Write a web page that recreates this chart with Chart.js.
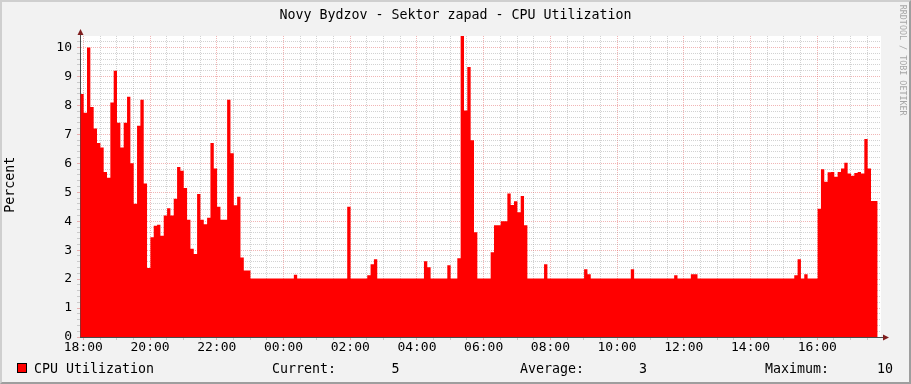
<!DOCTYPE html>
<html>
<head>
<meta charset="utf-8">
<title>Novy Bydzov - Sektor zapad - CPU Utilization</title>
<script src="https://cdn.jsdelivr.net/npm/chart.js@4"></script>
<style>
  body { margin: 0; background: #f2f2f2; }
  #graph { position: relative; width: 911px; height: 384px; background: #f2f2f2; overflow: hidden; }
  #graph canvas { position: absolute; left: 0; top: 0; }
  #frame {
    position: absolute; left: 0; top: 0; width: 911px; height: 384px;
    box-sizing: border-box; border: 2px solid;
    border-color: #cfcfcf #9e9e9e #9e9e9e #cfcfcf; pointer-events: none;
  }
  .txt {
    position: absolute; font-family: "DejaVu Sans Mono", monospace;
    font-size: 13.3px; line-height: 1; white-space: pre; color: #000;
  }
  #title { left: 0; width: 911px; top: 7.75px; text-align: center; }
  #ylabel {
    left: -29.6px; top: 178.4px; width: 80px; height: 13.3px;
    text-align: center; transform: rotate(-90deg);
  }
  #mark {
    font-size: 8.4px; color: #a6a6a6;
    left: 842.9px; top: 56.3px; width: 120px; height: 8.4px;
    text-align: center; transform: rotate(90deg);
  }
  #legendBox {
    position: absolute; left: 17px; top: 363px; width: 10px; height: 10px;
    box-sizing: border-box; background: #ff0000; border: 1px solid #000;
  }
  .leg { top: 362px; }
</style>
</head>
<body>
<div id="graph">
  <canvas id="cpuChart" width="911" height="384"></canvas>
  <div id="frame"></div>
  <div class="txt" id="title"></div>
  <div class="txt" id="ylabel">Percent</div>
  <div class="txt" id="mark">RRDTOOL / TOBI OETIKER</div>
  <div id="legendBox"></div>
  <div class="txt leg" id="legName" style="left:34px"></div>
  <div class="txt leg" style="left:272px">Current:</div>
  <div class="txt leg" id="legCur" style="left:391.5px"></div>
  <div class="txt leg" style="left:520px">Average:</div>
  <div class="txt leg" id="legAvg" style="left:639px"></div>
  <div class="txt leg" style="left:765px">Maximum:</div>
  <div class="txt leg" id="legMax" style="left:877px"></div>
</div>
<script>
const CHART_TITLE  = "Novy Bydzov - Sektor zapad - CPU Utilization";
const SERIES_NAME  = "CPU Utilization";
const STAT_CURRENT = "5";
const STAT_AVERAGE = "3";
const STAT_MAXIMUM = "10";

// hours after 18:00, one sample every 6 minutes
const START_HOUR = -0.09;
const STEP_HOURS = 0.1;

const timeTickHours = [0, 2, 4, 6, 8, 10, 12, 14, 16, 18, 20, 22];
const timeLabels    = ["18:00", "20:00", "22:00", "00:00", "02:00", "04:00",
                       "06:00", "08:00", "10:00", "12:00", "14:00", "16:00"];
const yLabels       = ["0", "1", "2", "3", "4", "5", "6", "7", "8", "9", "10"];

const cpuValues = [
  8.4, 7.75, 10.0, 7.95, 7.2, 6.7, 6.55, 5.7, 5.5, 8.1,
  9.2, 7.4, 6.55, 7.4, 8.3, 6.0, 4.6, 7.3, 8.2, 5.3,
  2.38, 3.45, 3.84, 3.88, 3.5, 4.2, 4.45, 4.2, 4.78, 5.87,
  5.74, 5.15, 4.05, 3.05, 2.87, 4.94, 4.05, 3.9, 4.12, 6.7,
  5.82, 4.5, 4.05, 4.05, 8.2, 6.35, 4.55, 4.85, 2.75, 2.3,
  2.3, 2.02, 2.02, 2.02, 2.02, 2.02, 2.02, 2.02, 2.02, 2.02,
  2.02, 2.02, 2.02, 2.02, 2.15, 2.02, 2.02, 2.02, 2.02, 2.02,
  2.02, 2.02, 2.02, 2.02, 2.02, 2.02, 2.02, 2.02, 2.02, 2.02,
  4.5, 2.02, 2.02, 2.02, 2.02, 2.02, 2.13, 2.51, 2.69, 2.02,
  2.02, 2.02, 2.02, 2.02, 2.02, 2.02, 2.02, 2.02, 2.02, 2.02,
  2.02, 2.02, 2.02, 2.62, 2.41, 2.02, 2.02, 2.02, 2.02, 2.02,
  2.48, 2.02, 2.02, 2.72, 10.4, 7.83, 9.33, 6.8, 3.62, 2.02,
  2.02, 2.02, 2.02, 2.93, 3.86, 3.86, 4.0, 4.0, 4.96, 4.56,
  4.69, 4.31, 4.87, 3.86, 2.02, 2.02, 2.02, 2.02, 2.02, 2.51,
  2.02, 2.02, 2.02, 2.02, 2.02, 2.02, 2.02, 2.02, 2.02, 2.02,
  2.02, 2.34, 2.17, 2.02, 2.02, 2.02, 2.02, 2.02, 2.02, 2.02,
  2.02, 2.02, 2.02, 2.02, 2.02, 2.34, 2.02, 2.02, 2.02, 2.02,
  2.02, 2.02, 2.02, 2.02, 2.02, 2.02, 2.02, 2.02, 2.13, 2.02,
  2.02, 2.02, 2.02, 2.17, 2.17, 2.02, 2.02, 2.02, 2.02, 2.02,
  2.02, 2.02, 2.02, 2.02, 2.02, 2.02, 2.02, 2.02, 2.02, 2.02,
  2.02, 2.02, 2.02, 2.02, 2.02, 2.02, 2.02, 2.02, 2.02, 2.02,
  2.02, 2.02, 2.02, 2.02, 2.13, 2.69, 2.02, 2.17, 2.02, 2.02,
  2.02, 4.43, 5.8, 5.36, 5.69, 5.7, 5.54, 5.7, 5.82, 6.02,
  5.65, 5.57, 5.67, 5.7, 5.65, 6.84, 5.82, 4.7, 4.7
];

const FONT_FAMILY = '"DejaVu Sans Mono", monospace';
const MINOR_GRID  = "rgba(143,143,143,0.4)";
const MAJOR_GRID  = "rgba(222,79,79,0.42)";
const AXIS_COLOR  = "#4a4a4a";
const ARROW_COLOR = "#801f1f";

/* ── Texts ─────────────────────────────────────────── */
document.getElementById("title").textContent   = CHART_TITLE;
document.getElementById("legName").textContent = SERIES_NAME;
document.getElementById("legCur").textContent  = STAT_CURRENT;
document.getElementById("legAvg").textContent  = STAT_AVERAGE;
document.getElementById("legMax").textContent  = STAT_MAXIMUM;

/* ── Data points (step area) ───────────────────────── */
const points = cpuValues.map((v, i) => ({ x: START_HOUR + i * STEP_HOURS, y: v }));
points.push({ x: START_HOUR + cpuValues.length * STEP_HOURS, y: cpuValues[cpuValues.length - 1] });

function near(a, b) { return Math.abs(a - b) < 1e-6; }

function xLabel(v) {
  const i = timeTickHours.findIndex(h => near(h, v));
  return i >= 0 ? timeLabels[i] : "";
}

function yLabel(v) {
  const r = Math.round(v);
  return near(r, v) ? yLabels[r] : "";
}

function xGridColor(ctx) {
  if (!ctx.tick) return MINOR_GRID;
  return xLabel(ctx.tick.value) ? MAJOR_GRID : MINOR_GRID;
}

function yGridColor(ctx) {
  if (!ctx.tick) return MINOR_GRID;
  if (ctx.tick.value > 10.3) return "rgba(0,0,0,0)";
  return yLabel(ctx.tick.value) ? MAJOR_GRID : MINOR_GRID;
}

/* ── Canvas / arrows ───────────────────────────────── */
const rrdDecor = {
  id: "rrdDecor",
  beforeDraw(chart) {
    const { ctx, chartArea: a } = chart;
    ctx.save();
    ctx.fillStyle = "#ffffff";
    ctx.fillRect(a.left, a.top, a.right - a.left, a.bottom - a.top);
    ctx.restore();
  },
  afterDraw(chart) {
    const { ctx, chartArea: a } = chart;
    const ax = a.left + 0.5;
    const ay = a.bottom + 0.5;
    ctx.save();
    ctx.strokeStyle = AXIS_COLOR;
    ctx.lineWidth = 1;
    ctx.beginPath();
    ctx.moveTo(a.right, ay);   ctx.lineTo(a.right + 4, ay);
    ctx.moveTo(ax, a.top);     ctx.lineTo(ax, a.top - 4);
    ctx.stroke();
    ctx.fillStyle = ARROW_COLOR;
    ctx.beginPath();
    ctx.moveTo(a.right + 2, ay - 3);
    ctx.lineTo(a.right + 8, ay);
    ctx.lineTo(a.right + 2, ay + 3);
    ctx.closePath();
    ctx.fill();
    ctx.beginPath();
    ctx.moveTo(ax - 3, a.top - 1);
    ctx.lineTo(ax, a.top - 7);
    ctx.lineTo(ax + 3, a.top - 1);
    ctx.closePath();
    ctx.fill();
    ctx.restore();
  }
};

/* ── Chart ─────────────────────────────────────────── */
new Chart(document.getElementById("cpuChart"), {
  type: "line",
  data: {
    datasets: [{
      label: SERIES_NAME,
      data: points,
      stepped: true,
      fill: "origin",
      backgroundColor: "#ff0000",
      borderColor: "rgba(0,0,0,0)",
      borderWidth: 0,
      pointRadius: 0,
      tension: 0
    }]
  },
  options: {
    responsive: false,
    animation: false,
    events: [],
    layout: { padding: { left: 0, top: 36, right: 30, bottom: 27 } },
    plugins: {
      legend: { display: false },
      title: { display: false },
      tooltip: { enabled: false }
    },
    scales: {
      x: {
        type: "linear",
        min: -0.1,
        max: 23.91,
        z: 1,
        afterFit: s => { s.height = 20; },
        grid: { color: xGridColor, tickLength: 3, lineWidth: 1 },
        border: { display: true, color: AXIS_COLOR, width: 1, dash: [1, 1] },
        ticks: {
          stepSize: 0.5,
          autoSkip: false,
          includeBounds: false,
          maxRotation: 0,
          minRotation: 0,
          padding: 0,
          color: "#000",
          font: { family: FONT_FAMILY, size: 13 },
          callback: v => xLabel(v)
        }
      },
      y: {
        type: "linear",
        min: 0,
        max: 10.4,
        z: 1,
        afterFit: s => { s.width = 80; },
        grid: { color: yGridColor, tickLength: 3, lineWidth: 1 },
        border: { display: true, color: AXIS_COLOR, width: 1, dash: [1, 1] },
        ticks: {
          stepSize: 0.2,
          autoSkip: false,
          includeBounds: false,
          padding: 5,
          color: "#000",
          font: { family: FONT_FAMILY, size: 13 },
          callback: v => yLabel(v)
        }
      }
    }
  },
  plugins: [rrdDecor]
});
</script>
</body>
</html>
